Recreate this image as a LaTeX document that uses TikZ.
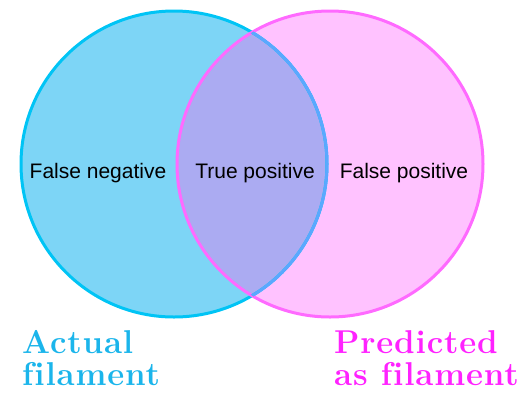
\documentclass[tikz,border=0pt]{standalone}
\usepackage{fontspec}
\usepackage{xcolor}
\usepackage{tikz}
\usetikzlibrary{positioning,calc}
\newfontfamily\vennsans{Liberation Sans}
\newfontfamily\setserif[Ligatures=NoCommon,LetterSpace=2.5]{Latin Modern Roman}

\definecolor{cyanline}{RGB}{0,196,245}
\definecolor{cyanfill}{RGB}{125,213,246}
\definecolor{pinkline}{RGB}{255,106,255}
\definecolor{pinkfill}{RGB}{255,194,255}
\definecolor{overlapfill}{RGB}{171,171,242}
\definecolor{overlapline}{RGB}{90,168,255}
\definecolor{cyantext}{RGB}{27,181,235}
\definecolor{pinktext}{RGB}{255,34,255}

\begin{document}
\begin{tikzpicture}[x=1pt,y=-1pt,
    region/.style={font=\vennsans\fontsize{21}{25}\selectfont, anchor=base, inner sep=0pt},
    setlabel/.style={font=\setserif\bfseries\fontsize{33}{32}\selectfont, anchor=north west, align=left, inner sep=0pt}]
    \useasboundingbox (0,0) rectangle (522,392);

    % Circles
    \coordinate (actual) at (174,164);
    \coordinate (predicted) at (330,164);
    \fill[cyanfill] (actual) circle[radius=153];
    \fill[pinkfill] (predicted) circle[radius=153];
    \begin{scope}
        \clip (actual) circle[radius=153];
        \fill[overlapfill] (predicted) circle[radius=153];
    \end{scope}
    \draw[cyanline, line width=3pt] (actual) circle[radius=153];
    \draw[pinkline, line width=3pt] (predicted) circle[radius=153];
    \begin{scope}
        \clip (predicted) circle[radius=153];
        \draw[overlapline, line width=3pt] (actual) circle[radius=153];
    \end{scope}

    % Regions
    \node[region] (fn) at (98,178) {False negative};
    \node[region] (tp) at (255,178) {True positive};
    \node[region] (fp) at (404,178) {False positive};

    % Set names
    \node[setlabel, text=cyantext] (actlabel) at (22,330) {Actual\\filament};
    \node[setlabel, text=pinktext] (predlabel) at (334,330) {Predicted\\as filament};
\end{tikzpicture}
\end{document}
